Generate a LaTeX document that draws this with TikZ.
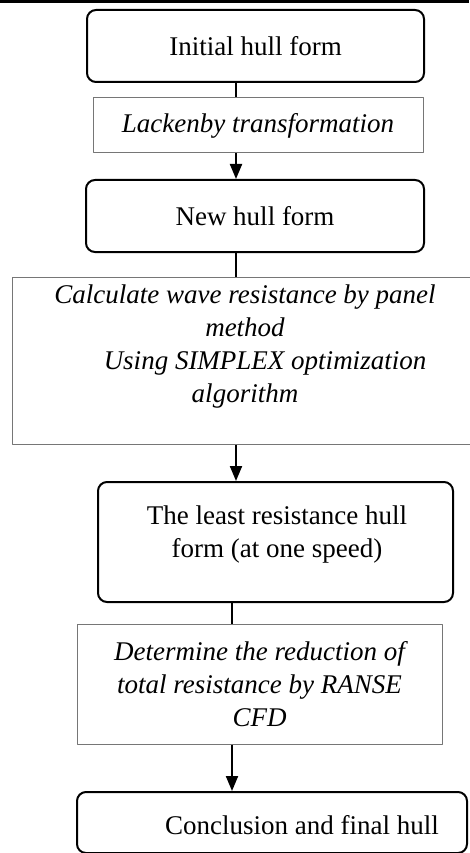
\documentclass[tikz,border=0pt]{standalone}
\usepackage{fontspec}
\setmainfont{Liberation Serif}
\usetikzlibrary{arrows.meta}
\definecolor{boxgray}{RGB}{118,118,118}
\begin{document}
\begin{tikzpicture}[x=1pt,y=-1pt,line join=round,
	>={Triangle[length=15pt,width=12pt]},
	font=\fontsize{27}{33}\selectfont]
	\tikzset{
		stage/.style={draw=black,line width=2pt,rounded corners=9pt,inner sep=0pt,align=center},
		task/.style={draw=boxgray,line width=1pt,inner sep=0pt,align=center,font=\fontsize{27}{33}\selectfont\itshape},
		link/.style={line width=2pt}
	}
	\useasboundingbox (0,0) rectangle (469,853);
	\draw[line width=3pt] (0,1.5)--(469,1.5);
	% stages and tasks
	\node[stage,minimum width=337pt,minimum height=72pt] (ini) at (255.5,46) {Initial hull form};
	\node[task,minimum width=330pt,minimum height=55pt] (lack) at (258,125.5) {Lackenby transformation};
	\node[stage,minimum width=338pt,minimum height=72pt] (new) at (255,216) {New hull form};
	\node[task,minimum width=463pt,minimum height=167pt] (wave) at (243.5,360.5) {};
	\node[font=\fontsize{27}{33}\selectfont\itshape,align=center] (wavetxt) at (245,347)
		{Calculate wave resistance by panel\\method\\\hspace*{40pt}Using SIMPLEX optimization\\algorithm};
	\node[stage,minimum width=355pt,minimum height=120pt] (least) at (275.5,542) {};
	\node[align=center] (leasttxt) at (277,535) {The least resistance hull\\form (at one speed)};
	\node[task,minimum width=365pt,minimum height=120pt] (ranse) at (259.5,684)
		{Determine the reduction of\\total resistance by RANSE\\CFD};
	\node[stage,minimum width=390pt,minimum height=61pt] (final) at (272,822.5) {};
	\node (finaltxt) at (302,825) {Conclusion and final hull};
	% connectors
	\coordinate (xa) at (236,0);
	\coordinate (xb) at (232,0);
	\draw[link] (ini.south -| xa)--(lack.north -| xa);
	\draw[link,->] (lack.south -| xa)--(new.north -| xa);
	\draw[link] (new.south -| xa)--(wave.north -| xa);
	\draw[link,->] (wave.south -| xa)--(least.north -| xa);
	\draw[link] (least.south -| xb)--(ranse.north -| xb);
	\draw[link,->] (ranse.south -| xb)--(final.north -| xb);
\end{tikzpicture}
\end{document}
